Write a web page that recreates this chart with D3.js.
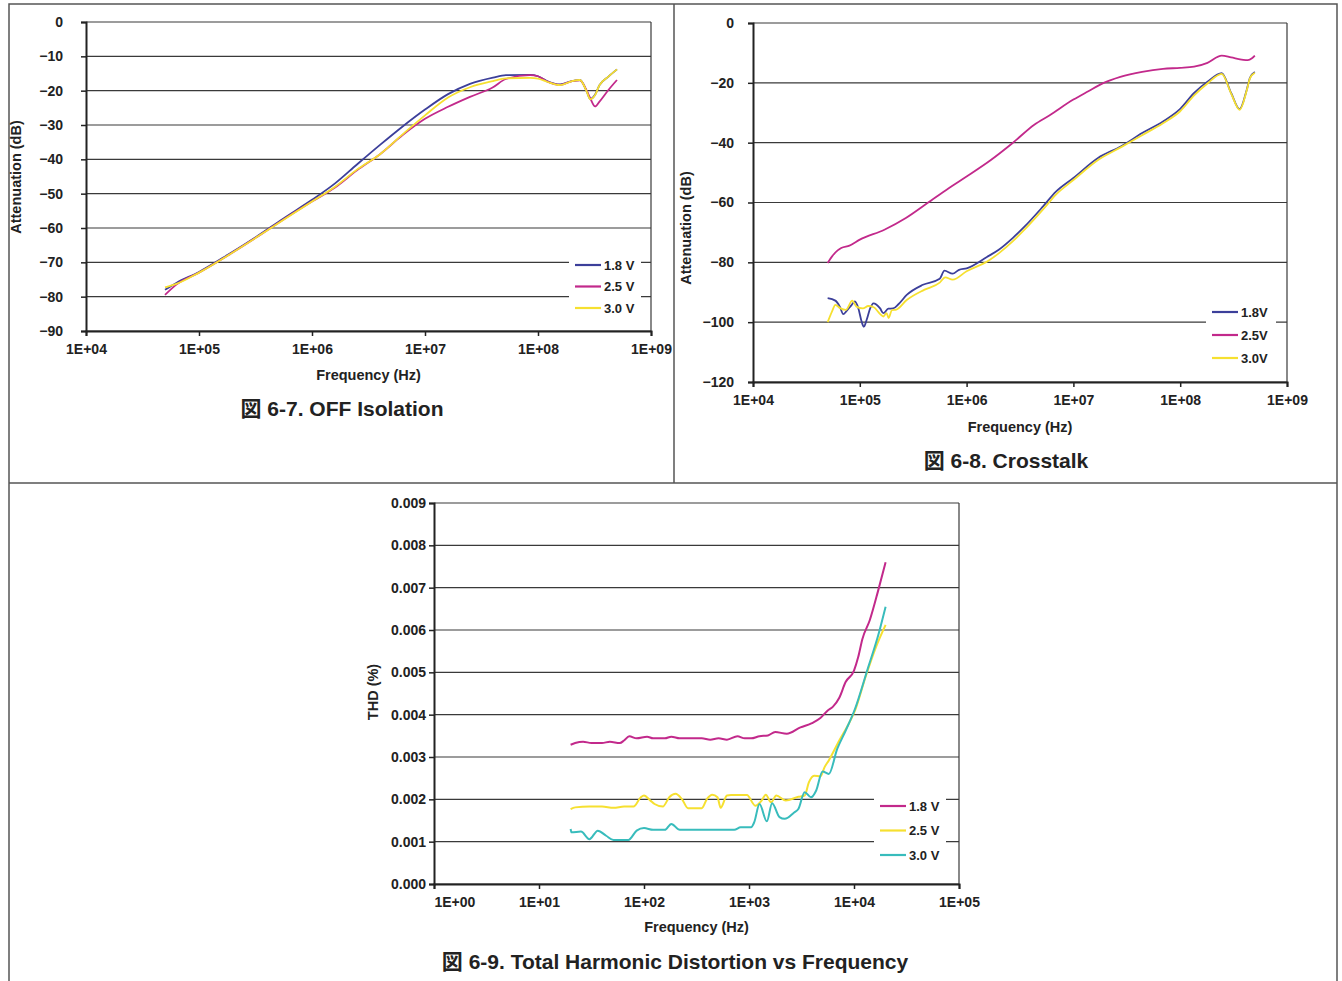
<!DOCTYPE html>
<html>
<head>
<meta charset="utf-8">
<script src="https://cdn.jsdelivr.net/npm/d3@7"></script>
<style>
  body { margin: 0; background: #fff; }
  svg text { font-family: "Liberation Sans", Arial, "Noto Sans CJK JP", sans-serif; font-weight: bold; fill: #222; }
</style>
</head>
<body>
<svg id="page" width="1342" height="981"></svg>
<script>

// ---------- data: OFF isolation (Hz, dB) ----------
var isoFreq = [5.0e4, 6.3e4, 1.0e5, 1.8e5, 3.2e5, 5.6e5, 1.0e6, 1.6e6, 2.5e6, 4.0e6, 6.3e6, 1.0e7, 1.6e7, 2.5e7,
               4.0e7, 5.2e7, 8.5e7, 1.0e8, 1.2e8, 1.57e8, 2.0e8, 2.35e8, 2.7e8, 2.9e8, 3.2e8, 3.5e8, 4.2e8, 5.0e8];
var iso18 = [-78.0, -76.0, -72.8, -67.8, -62.6, -57.2, -51.8, -47.0, -41.5, -35.8, -30.5, -25.5, -21.0, -18.0,
             -16.2, -15.5, -15.4, -15.8, -17.2, -18.2, -17.2, -16.9, -20.2, -22.4, -21.2, -18.4, -15.9, -13.8];
var iso25 = [-79.5, -76.5, -73.0, -68.0, -62.8, -57.5, -52.3, -48.2, -43.2, -38.5, -33.0, -28.2, -24.7, -21.8,
             -19.0, -16.6, -15.5, -15.8, -17.3, -18.3, -17.2, -17.0, -20.0, -22.2, -24.6, -23.2, -19.8, -16.9];
var iso30 = [-77.3, -76.3, -73.0, -68.0, -62.8, -57.6, -52.3, -48.0, -43.0, -38.5, -32.8, -27.2, -22.0, -19.0,
             -17.2, -16.4, -16.3, -16.5, -17.4, -18.4, -17.2, -16.9, -20.3, -22.5, -21.3, -18.4, -15.9, -13.8];

// ---------- data: crosstalk (Hz, dB) ----------
var xtFreq18 = [5.0e4, 5.9e4, 6.5e4, 7.0e4, 7.5e4, 8.4e4, 9.0e4, 9.7e4, 1.04e5, 1.09e5, 1.16e5, 1.25e5, 1.34e5,
                1.55e5, 1.66e5, 1.85e5, 2.05e5, 2.3e5, 2.75e5, 3.9e5, 5.6e5, 6.2e5, 7.4e5, 8.5e5, 1.0e6, 1.55e6,
                2.0e6, 2.7e6, 3.5e6, 5.2e6, 6.9e6, 1.0e7, 1.7e7, 2.8e7, 4.4e7, 6.9e7, 1.0e8, 1.35e8, 1.8e8,
                2.45e8, 3.0e8, 3.6e8, 4.2e8, 4.5e8, 5.0e8];
var xt18 = [-92.0, -92.8, -94.8, -97.3, -96.3, -94.2, -93.1, -95.4, -99.8, -101.5, -99.2, -95.4, -93.7,
            -95.4, -97.0, -95.5, -95.4, -94.0, -90.9, -87.5, -85.5, -82.8, -83.8, -82.5, -82.0, -78.2,
            -75.8, -71.9, -68.0, -61.3, -56.3, -51.8, -45.1, -41.2, -36.8, -32.9, -28.7, -23.4, -19.6,
            -16.8, -23.4, -28.8, -22.3, -18.3, -16.4];
var xtFreq25 = [5.0e4, 5.5e4, 6.2e4, 6.7e4, 8.0e4, 1.0e5, 1.7e5, 2.7e5, 4.3e5, 6.8e5, 1.0e6, 1.7e6, 2.7e6,
                4.3e6, 6.0e6, 1.0e7, 1.38e7, 1.9e7, 2.75e7, 4.4e7, 6.9e7, 1.0e8, 1.35e8, 1.8e8, 2.45e8,
                3.0e8, 3.9e8, 4.3e8, 4.7e8, 5.0e8];
var xt25 = [-80.2, -78.0, -76.0, -75.2, -74.4, -72.4, -69.1, -65.2, -60.2, -55.2, -51.3, -45.7, -40.1,
            -34.0, -30.8, -25.6, -22.8, -20.1, -18.0, -16.3, -15.3, -15.0, -14.6, -13.3, -10.9,
            -11.5, -12.3, -12.4, -11.8, -10.9];
var xtFreq30 = [5.0e4, 5.5e4, 5.9e4, 6.6e4, 7.4e4, 8.5e4, 9.3e4, 1.07e5, 1.2e5, 1.35e5, 1.55e5, 1.66e5,
                1.78e5, 1.86e5, 2.0e5, 2.2e5, 2.75e5, 4.0e5, 5.6e5, 6.3e5, 7.4e5, 1.0e6, 1.6e6, 2.0e6,
                2.7e6, 3.5e6, 5.2e6, 6.9e6, 1.0e7, 1.7e7, 2.8e7, 4.4e7, 6.9e7, 1.0e8, 1.35e8, 1.8e8,
                2.45e8, 3.0e8, 3.6e8, 4.2e8, 4.5e8, 5.0e8];
var xt30 = [-100.0, -96.4, -94.2, -95.4, -95.9, -92.8, -94.8, -95.4, -94.6, -95.0, -97.3, -98.1,
            -97.0, -98.6, -96.0, -95.8, -92.6, -89.2, -86.8, -85.0, -85.8, -83.0, -79.5, -77.0,
            -73.0, -69.0, -62.3, -57.3, -52.5, -45.8, -41.5, -37.5, -33.5, -29.5, -24.2, -20.2,
            -17.0, -23.6, -29.0, -22.5, -18.5, -16.6];

// ---------- data: THD (Hz, %) ----------
var thdFreq18 = [20, 22.1, 26.3, 31.6, 39.8, 47.3, 58.9, 64.6, 72.4, 85.1, 107, 122, 158, 182, 219, 355,
                 427, 513, 617, 776, 912, 1047, 1259, 1514, 1778, 2291, 3090, 3981, 4786, 5623, 6310,
                 7244, 8318, 10000, 10965, 12023, 14125, 16982, 20000];
var thd18 = [3.29, 3.33, 3.36, 3.33, 3.33, 3.36, 3.33, 3.39, 3.49, 3.44, 3.48, 3.44, 3.44, 3.48, 3.44, 3.44,
             3.41, 3.44, 3.41, 3.49, 3.44, 3.44, 3.49, 3.51, 3.59, 3.55, 3.70, 3.80, 3.92, 4.10, 4.19,
             4.40, 4.77, 5.04, 5.36, 5.79, 6.23, 6.93, 7.60];
var thdFreq25 = [20, 22.1, 30.2, 39.8, 51.3, 64.6, 79.4, 93.3, 100, 115, 126, 151, 174, 200, 229, 263, 355,
                 398, 447, 501, 537, 617, 676, 955, 1148, 1318, 1445, 1622, 1820, 2239, 2951, 3388, 3715,
                 4169, 4786, 5248, 5754, 7244, 8710, 10233, 12882, 16218, 20000];
var thd25 = [1.77, 1.81, 1.83, 1.83, 1.80, 1.83, 1.83, 2.05, 2.09, 1.97, 1.89, 1.83, 2.05, 2.13, 2.01, 1.79, 1.79,
             2.01, 2.11, 2.05, 1.80, 2.09, 2.10, 2.10, 1.85, 1.97, 2.11, 1.93, 2.09, 1.97, 2.06, 2.09, 2.40,
             2.56, 2.54, 2.76, 2.92, 3.39, 3.74, 4.10, 4.89, 5.60, 6.12];
var thdFreq30 = [20, 20.4, 25.1, 30.2, 36.3, 43.6, 51.3, 70.8, 85.1, 100, 122, 158, 182, 219, 724, 832, 1047,
                 1122, 1259, 1479, 1660, 1950, 2188, 2692, 2951, 3388, 3890, 4365, 5012, 5754, 6918, 8318,
                 10233, 13490, 16982, 20000];
var thd30 = [1.30, 1.22, 1.24, 1.06, 1.26, 1.14, 1.04, 1.04, 1.26, 1.32, 1.28, 1.28, 1.42, 1.28, 1.28, 1.34, 1.34,
             1.46, 1.89, 1.48, 1.91, 1.58, 1.54, 1.69, 1.77, 2.17, 2.05, 2.21, 2.66, 2.60, 3.19, 3.62,
             4.14, 5.08, 5.87, 6.55];

var blue = "#3c3f9a", magenta = "#c2298b", yellow = "#f6e030", teal = "#38bcbc";

var svg = d3.select("#page");

// panel borders
var border = svg.append("g").attr("stroke", "#555").attr("stroke-width", 1.5).attr("fill", "none");
border.append("path").attr("d", "M9,981 V4 H1337 V981");
border.append("line").attr("x1", 9).attr("x2", 1337).attr("y1", 483).attr("y2", 483);
border.append("line").attr("x1", 674).attr("x2", 674).attr("y1", 4).attr("y2", 483);

var zip = (fs, vs) => fs.map((f, i) => ({f: f, v: vs[i]}));

function drawChart(cfg) {
    var g = svg.append("g");
    var x = d3.scaleLog().domain(cfg.xDomain).range([cfg.left, cfg.right]);
    var y = d3.scaleLinear().domain(cfg.yDomain).range([cfg.bottom, cfg.top]);

    // gridlines
    g.append("g").selectAll("line").data(cfg.yTicks).enter().append("line")
        .attr("x1", cfg.left).attr("x2", cfg.right)
        .attr("y1", d => y(d)).attr("y2", d => y(d))
        .attr("stroke", "#3a3a3a").attr("stroke-width", 1.2);
    g.append("line").attr("x1", cfg.right).attr("x2", cfg.right)
        .attr("y1", cfg.top).attr("y2", cfg.bottom)
        .attr("stroke", "#3a3a3a").attr("stroke-width", 1.2);

    // legend box (white, covers grid)
    var lg = cfg.legend;
    g.append("rect").attr("x", lg.x).attr("y", lg.y).attr("width", lg.w).attr("height", lg.h).attr("fill", "#fff");

    // lines
    var line = d3.line().x(d => x(d.f)).y(d => y(d.v)).curve(d3.curveMonotoneX);
    cfg.series.forEach(s => {
        g.append("path").datum(zip(s.f, s.v))
            .attr("d", line).attr("fill", "none")
            .attr("stroke", s.color).attr("stroke-width", cfg.lineWidth)
            .attr("stroke-linejoin", "round");
    });

    // axes
    var xAxis = d3.axisBottom(x).tickValues(cfg.xTicks).tickSize(5).tickPadding(5)
        .tickFormat(d => "1E+" + d3.format("02d")(Math.round(Math.log10(d))));
    var yAxis = d3.axisLeft(y).tickValues(cfg.yTicks).tickSize(5).tickPadding(cfg.yPad)
        .tickFormat(cfg.yFormat);
    var xa = g.append("g").attr("transform", `translate(0,${cfg.bottom})`).call(xAxis);
    var ya = g.append("g").attr("transform", `translate(${cfg.left},0)`).call(yAxis);
    [xa, ya].forEach(a => {
        a.select(".domain").attr("stroke", "#222").attr("stroke-width", 2);
        a.selectAll(".tick line").attr("stroke", "#222").attr("stroke-width", 1.5);
        a.selectAll("text").style("font-size", "14px").attr("fill", "#222");
    });
    xa.selectAll("text").attr("dy", "0.9em");
    if (cfg.firstLabelStart) {
        xa.select(".tick text").attr("text-anchor", "start").attr("x", 0);
    }

    // axis titles
    g.append("text").attr("x", (cfg.left + cfg.right) / 2).attr("y", cfg.xTitleY)
        .attr("text-anchor", "middle").style("font-size", "14.5px").text("Frequency (Hz)");
    g.append("text").attr("transform", `translate(${cfg.yTitleX},${cfg.yTitleY}) rotate(-90)`)
        .attr("text-anchor", "middle").style("font-size", "14.5px").text(cfg.yTitle);

    // legend
    var items = g.append("g").selectAll("g").data(cfg.series).enter().append("g")
        .attr("transform", (d, i) => `translate(${lg.x + lg.padX},${lg.y + lg.first + i * lg.step})`);
    items.append("line").attr("x1", 0).attr("x2", 26).attr("y1", 0).attr("y2", 0)
        .attr("stroke", d => d.color).attr("stroke-width", 2.2);
    items.append("text").attr("x", 29).attr("y", 4.5).style("font-size", "13px").text(d => d.name);

    // figure title
    svg.append("text").attr("x", cfg.titleX).attr("y", cfg.titleY)
        .attr("text-anchor", "middle").style("font-size", "21px").text(cfg.title);
}

drawChart({
    left: 86, right: 651, top: 22, bottom: 331,
    xDomain: [1e4, 1e9], yDomain: [-90, 0],
    xTicks: [1e4, 1e5, 1e6, 1e7, 1e8, 1e9],
    yTicks: d3.range(-90, 1, 10), yPad: 18,
    yFormat: d => d === 0 ? "0" : "\u2212" + Math.abs(d),
    yTitle: "Attenuation (dB)", yTitleX: 21, yTitleY: 177, xTitleY: 380,
    lineWidth: 1.8,
    legend: {x: 569, y: 254, w: 72, h: 64, padX: 6, first: 11, step: 21.5},
    series: [
        {name: "1.8 V", color: blue, f: isoFreq, v: iso18},
        {name: "2.5 V", color: magenta, f: isoFreq, v: iso25},
        {name: "3.0 V", color: yellow, f: isoFreq, v: iso30}
    ],
    title: "図 6-7. OFF Isolation", titleX: 342, titleY: 416
});

drawChart({
    left: 753, right: 1287, top: 23, bottom: 382,
    xDomain: [1e4, 1e9], yDomain: [-120, 0],
    xTicks: [1e4, 1e5, 1e6, 1e7, 1e8, 1e9],
    yTicks: d3.range(-120, 1, 20), yPad: 14,
    yFormat: d => d === 0 ? "0" : "\u2212" + Math.abs(d),
    yTitle: "Attenuation (dB)", yTitleX: 691, yTitleY: 228, xTitleY: 432,
    lineWidth: 1.8,
    legend: {x: 1206, y: 300, w: 70, h: 70, padX: 6, first: 12, step: 23},
    series: [
        {name: "1.8V", color: blue, f: xtFreq18, v: xt18},
        {name: "2.5V", color: magenta, f: xtFreq25, v: xt25},
        {name: "3.0V", color: yellow, f: xtFreq30, v: xt30}
    ],
    title: "図 6-8. Crosstalk", titleX: 1006, titleY: 468
});

drawChart({
    left: 434, right: 959, top: 503, bottom: 884,
    xDomain: [1, 1e5], yDomain: [0, 9],
    xTicks: [1, 1e1, 1e2, 1e3, 1e4, 1e5],
    yTicks: d3.range(0, 10, 1), yPad: 3,
    yFormat: d => d3.format(".3f")(d / 1000),
    yTitle: "THD (%)", yTitleX: 378, yTitleY: 692, xTitleY: 932,
    lineWidth: 2, firstLabelStart: true,
    legend: {x: 874, y: 793, w: 72, h: 74, padX: 6, first: 13, step: 24.5},
    series: [
        {name: "1.8 V", color: magenta, f: thdFreq18, v: thd18},
        {name: "2.5 V", color: yellow, f: thdFreq25, v: thd25},
        {name: "3.0 V", color: teal, f: thdFreq30, v: thd30}
    ],
    title: "図 6-9. Total Harmonic Distortion vs Frequency", titleX: 675, titleY: 969
});

</script>
</body>
</html>
